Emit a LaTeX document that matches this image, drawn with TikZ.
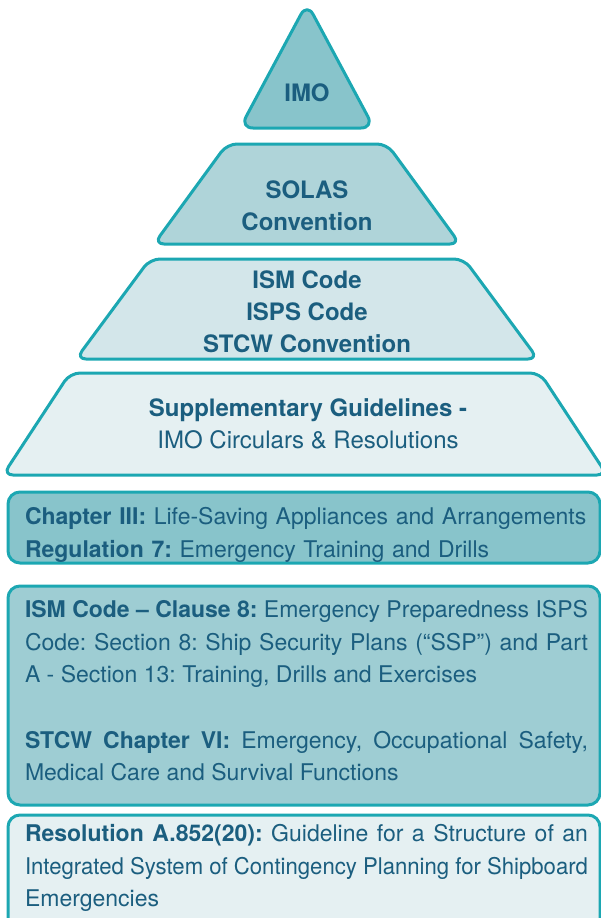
\documentclass[tikz,border=0pt]{standalone}
\usepackage{fontspec}
\usepackage{graphicx}
\setmainfont{TeX Gyre Heros}
\usetikzlibrary{positioning}

\definecolor{rim}{HTML}{1CA7B2}
\definecolor{ink}{HTML}{1B5E7F}
\definecolor{tealA}{HTML}{88C4CB}
\definecolor{tealB}{HTML}{AFD4D9}
\definecolor{tealC}{HTML}{D3E6EA}
\definecolor{tealD}{HTML}{E5F0F2}
\definecolor{tealE}{HTML}{9ECDD3}

\begin{document}
\frenchspacing
\hyphenpenalty=10000
\begin{tikzpicture}
[x=1pt,y=-1pt,
 every node/.style={text=ink,inner sep=0pt,outer sep=0pt},
 tier/.style={draw=rim,line width=3pt,rounded corners=10pt,line join=round},
 panel/.style={draw=rim,line width=3pt,rounded corners=12pt},
 head/.style={font=\fontsize{24}{32}\selectfont\bfseries,align=center},
 body/.style={font=\fontsize{23}{32.5}\selectfont,text width=563pt,anchor=north west}]

\useasboundingbox (0,0) rectangle (601,918);

% pyramid
\path[tier,fill=tealA,rounded corners=13pt] (240,128) -- (307,3) -- (374,128) -- cycle;
\path[tier,fill=tealB] (154,244) -- (227,144) -- (387,144) -- (460,244) -- cycle;
\path[tier,fill=tealC] (76,359) -- (150,259) -- (464,259) -- (538,359) -- cycle;
\path[tier,fill=tealD] (3,475) -- (70,373) -- (540,373) -- (607,475) -- cycle;

\node[head] (imo)   at (307,93)                     {IMO};
\node[head] (solas) [on grid,below=113pt of imo]    {SOLAS\\Convention};
\node[head] (codes) [on grid,below=106pt of solas]  {ISM Code\\ISPS Code\\STCW Convention};
\node[head] (supp)  [on grid,below=112pt of codes,xshift=1pt]
  {Supplementary Guidelines -\\\mdseries IMO Circulars \& Resolutions};

% panels
\path[panel,fill=tealA] (8,492) rectangle (600,563);
\path[panel,fill=tealE] (8,586) rectangle (600,805);
\path[panel,fill=tealD] (8,815) rectangle (600,935);

\node[body,align=left] (ch3) at (25,507.5)
  {\textbf{Chapter III:} Life-Saving Appliances and Arrangements\\
   \textbf{Regulation 7:} Emergency Training and Drills};

\node[body,align=justify] (ism) at (25,600.5)
  {\textbf{ISM Code – Clause 8:} Emergency Preparedness ISPS \linebreak
   Code: Section 8: Ship Security Plans (“SSP”) and Part \linebreak
   A - Section 13: Training, Drills and Exercises\par\vspace{33pt}
   \textbf{STCW Chapter VI:} Emergency, Occupational Safety, \linebreak
   Medical Care and Survival Functions};

\node[body,align=justify] (res) at (25,824.5)
  {\textbf{Resolution A.852(20):} Guideline for a Structure of an \linebreak
   \resizebox{\linewidth}{\height}{Integrated System of Contingency Planning for Shipboard}\linebreak
   Emergencies};

\end{tikzpicture}
\end{document}
